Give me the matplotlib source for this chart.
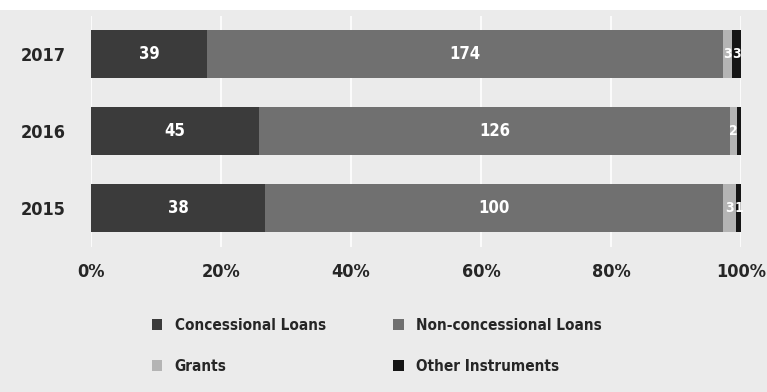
import matplotlib.pyplot as plt
from matplotlib.patches import Rectangle
import numpy as np

# Financing instruments by year
years = ["2015", "2016", "2017"]
concessional = [38, 45, 39]
non_concessional = [100, 126, 174]
grants = [3, 2, 3]
other = [1, 1, 3]

series = [
    ("Concessional Loans", concessional, "#3b3b3b"),
    ("Non-concessional Loans", non_concessional, "#707070"),
    ("Grants", grants, "#b4b4b4"),
    ("Other Instruments", other, "#151515"),
]
show_label = {
    "Concessional Loans": [True, True, True],
    "Non-concessional Loans": [True, True, True],
    "Grants": [True, True, True],
    "Other Instruments": [True, False, True],
}

plt.rcParams["font.family"] = ["DejaVu Sans"]
plt.rcParams["font.stretch"] = "condensed"

fig = plt.figure(figsize=(7.67, 3.92), dpi=100)
fig.patch.set_facecolor("white")
fig.patches.append(Rectangle((0, 0), 1, 382 / 392, transform=fig.transFigure,
                             facecolor="#ebebeb", edgecolor="none", zorder=-10))

ax = fig.add_axes([91 / 767, 1 - 246.5 / 392, 650 / 767, 231 / 392])
ax.set_facecolor("none")

totals = np.sum([s[1] for s in series], axis=0)
y = np.arange(len(years))
left = np.zeros(len(years))
handles = []
for name, vals, color in series:
    share = np.array(vals) / totals * 100
    h = ax.barh(y, share, left=left, height=0.63, color=color, label=name, zorder=3)
    handles.append(h)
    small = share < 5
    for i, v in enumerate(vals):
        if show_label[name][i]:
            ax.text(left[i] + share[i] / 2, y[i], str(v), ha="center", va="center",
                    color="white", fontsize=10 if small[i] else 12,
                    fontweight="bold", zorder=4)
    left += share

ax.set_xlim(0, 100)
ax.set_ylim(-0.5, 2.5)
ax.set_xticks(range(0, 101, 20))
ax.set_xticklabels([f"{t}%" for t in range(0, 101, 20)], fontweight="bold")
ax.set_yticks(y)
ax.set_yticklabels(years, fontweight="bold")
ax.tick_params(length=0, labelsize=13, colors="#262626")
ax.tick_params(axis="x", pad=12)
ax.tick_params(axis="y", pad=18)
ax.grid(axis="x", color="white", linewidth=1.2, zorder=0)
for sp in ax.spines.values():
    sp.set_visible(False)

# two rows: concessional / non-concessional, then grants / other
order = [0, 2, 1, 3]
fig.legend(handles=[handles[i] for i in order],
           labels=[series[i][0] for i in order], ncol=2, frameon=False,
           loc="center left", bbox_to_anchor=(138 / 767, 1 - 346 / 392),
           prop={"size": 11, "weight": "bold", "stretch": "condensed"},
           handlelength=0.7, handleheight=0.7, handletextpad=0.8,
           columnspacing=4.4, labelspacing=1.7, labelcolor="#262626")

fig.savefig("out.png", dpi=100, facecolor=fig.get_facecolor())
